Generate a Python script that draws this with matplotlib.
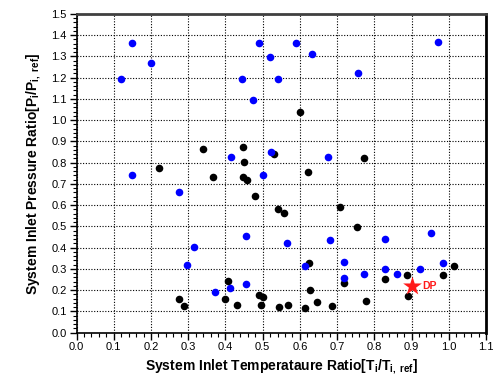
import matplotlib
matplotlib.use("Agg")
import matplotlib.pyplot as plt
from matplotlib.ticker import MultipleLocator

plt.rcParams['font.family'] = ['Liberation Sans', 'DejaVu Sans']
plt.rcParams['mathtext.fontset'] = 'custom'
plt.rcParams['mathtext.rm'] = 'Liberation Sans:bold'
plt.rcParams['mathtext.it'] = 'Liberation Sans:bold'
plt.rcParams['mathtext.bf'] = 'Liberation Sans:bold'

# Blue series (temperature ratio, pressure ratio)
blue_x = [0.150, 0.1195, 0.200, 0.444, 0.489, 0.521, 0.540, 0.475, 0.414, 0.522, 0.150,
          0.590, 0.633, 0.756, 0.972, 0.675,
          0.2745, 0.501, 0.4544, 0.3147, 0.296, 0.373, 0.413, 0.4544,
          0.5645, 0.682, 0.8295, 0.953, 0.613, 0.7185, 0.7185, 0.773, 0.8295, 0.8617, 0.9235, 0.985]
blue_y = [1.362, 1.194, 1.271, 1.194, 1.362, 1.299, 1.194, 1.095, 0.828, 0.852, 0.742,
          1.362, 1.312, 1.222, 1.367, 0.828,
          0.662, 0.742, 0.455, 0.402, 0.320, 0.193, 0.209, 0.228,
          0.421, 0.435, 0.442, 0.471, 0.312, 0.333, 0.256, 0.276, 0.300, 0.276, 0.301, 0.327]

# Black series
black_x = [0.341, 0.447, 0.449, 0.2216, 0.531, 0.366,
           0.601, 0.773, 0.623,
           0.447, 0.457, 0.4795, 0.542, 0.408, 0.2745, 0.2896, 0.399, 0.431, 0.491, 0.500, 0.496, 0.544,
           0.558, 0.708, 0.7535, 0.6245, 0.719, 0.628, 0.568, 0.613, 0.647, 0.687, 0.779,
           0.8295, 0.8885, 0.890, 0.985, 1.013]
black_y = [0.863, 0.875, 0.802, 0.777, 0.841, 0.734,
           1.037, 0.821, 0.758,
           0.731, 0.719, 0.643, 0.581, 0.245, 0.160, 0.126, 0.160, 0.132, 0.177, 0.170, 0.129, 0.123,
           0.563, 0.593, 0.496, 0.3265, 0.232, 0.2025, 0.132, 0.118, 0.1445, 0.126, 0.148,
           0.254, 0.270, 0.174, 0.270, 0.312]

# Design point
dp_x = [0.900]
dp_y = [0.220]
dp_label = "DP"

fig = plt.figure(figsize=(5.01, 3.82), dpi=100)
ax = fig.add_axes([0.1527, 0.129, 0.8173, 0.8345])

ax.scatter(black_x, black_y, s=30, color='black', zorder=3, linewidths=0)
ax.scatter(blue_x, blue_y, s=30, color='#0000ff', zorder=3, linewidths=0)
ax.scatter(dp_x, dp_y, s=200, marker='*', color='#ff1a1a', zorder=4, linewidths=0)
ax.text(dp_x[0] + 0.028, dp_y[0], dp_label, color='#ff1a1a', fontsize=7.5,
        fontweight='bold', va='center', ha='left')

ax.set_xlim(0.0, 1.1)
ax.set_ylim(0.0, 1.5)
ax.xaxis.set_major_locator(MultipleLocator(0.1))
ax.xaxis.set_minor_locator(MultipleLocator(0.02))
ax.yaxis.set_major_locator(MultipleLocator(0.1))
ax.yaxis.set_minor_locator(MultipleLocator(0.02))
ax.xaxis.set_major_formatter(matplotlib.ticker.FormatStrFormatter('%.1f'))
ax.yaxis.set_major_formatter(matplotlib.ticker.FormatStrFormatter('%.1f'))

ax.tick_params(which='major', direction='out', length=5, width=1, labelsize=8, pad=2)
ax.tick_params(which='minor', direction='out', length=3, width=0.8)

ax.grid(True, which='major', linestyle=(0, (1, 1.5)), color='black', linewidth=0.8)
ax.set_axisbelow(True)

for s in ['left', 'bottom']:
    ax.spines[s].set_linewidth(1.2)
ax.spines['top'].set_linestyle((0, (2, 1)))
ax.spines['top'].set_linewidth(2)
ax.spines['top'].set_color('#404040')
ax.spines['right'].set_linestyle((0, (2, 1)))
ax.spines['right'].set_linewidth(2)

ax.set_xlabel(r'System Inlet Temperataure Ratio[T$_\mathrm{i}$/T$_\mathrm{i,\ ref}$]',
              fontsize=10, fontweight='bold', labelpad=4)
ax.set_ylabel(r'System Inlet Pressure Ratio[P$_\mathrm{i}$/P$_\mathrm{i,\ ref}$]',
              fontsize=10, fontweight='bold', labelpad=6)

fig.savefig('out.png', dpi=100)
